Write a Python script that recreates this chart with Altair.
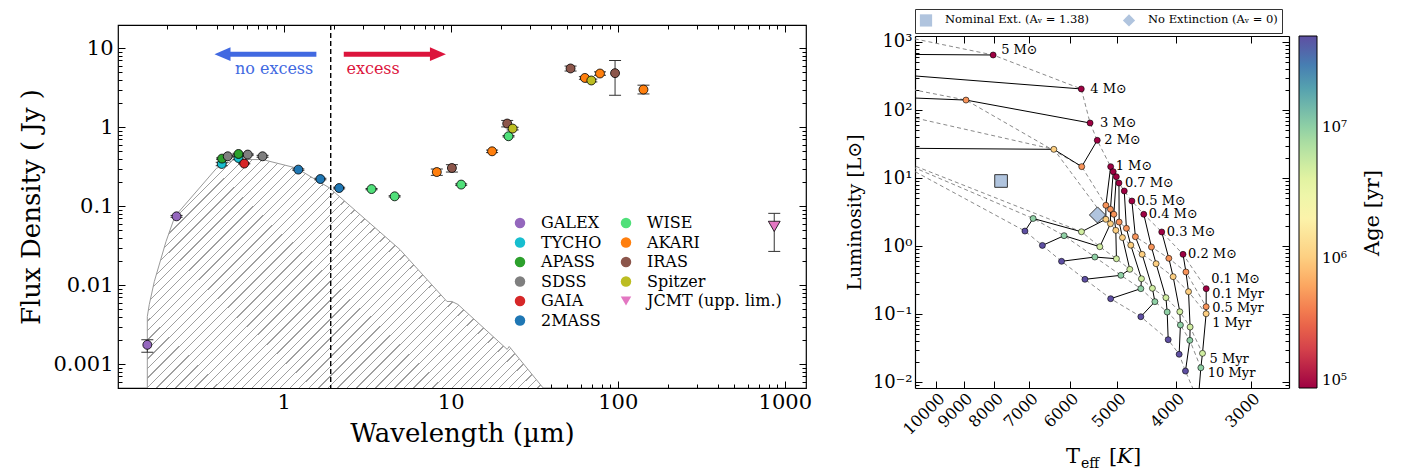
import altair as alt
import pandas as pd

FONT = "DejaVu Serif"

# ======================= LEFT PANEL: SED =======================
sed_survey = ["GALEX", "GALEX", "TYCHO", "TYCHO", "APASS", "APASS", "SDSS", "SDSS", "SDSS", "GAIA",
              "2MASS", "2MASS", "2MASS", "WISE", "WISE", "WISE", "WISE",
              "AKARI", "AKARI", "AKARI", "AKARI", "AKARI", "IRAS", "IRAS", "IRAS", "IRAS",
              "Spitzer", "Spitzer", "JCMT (upp. lim.)"]
sed_lam = [0.1528, 0.2286, 0.426, 0.537, 0.428, 0.537, 0.463, 0.610, 0.748, 0.581,
           1.225, 1.66, 2.15, 3.36, 4.62, 11.56, 22.2,
           8.26, 17.7, 63.6, 78.3, 142.6, 10.17, 21.8, 52.2, 96.4,
           23.5, 69.5, 865.0]
sed_flux = [0.00176, 0.0745, 0.343, 0.408, 0.401, 0.459, 0.429, 0.451, 0.429, 0.347,
            0.291, 0.221, 0.170, 0.165, 0.1335, 0.188, 0.769,
            0.271, 0.496, 4.21, 4.79, 3.00, 0.305, 1.114, 5.55, 4.84,
            0.963, 3.91, 0.0556]
sed_lo = [0.00142, 0.0725, 0.326, 0.392, 0.393, 0.450, 0.421, 0.443, 0.417, 0.343,
          0.285, 0.216, 0.166, 0.162, 0.131, 0.184, 0.754,
          0.246, 0.478, 4.05, 4.55, 2.64, 0.271, 1.01, 5.15, 2.54,
          0.925, 3.75, 0.0268]
sed_hi = [0.00204, 0.0765, 0.360, 0.424, 0.409, 0.468, 0.437, 0.459, 0.441, 0.351,
          0.297, 0.226, 0.174, 0.168, 0.136, 0.192, 0.784,
          0.296, 0.514, 4.37, 5.03, 3.41, 0.336, 1.22, 5.95, 7.00,
          1.000, 4.07, 0.0813]

# stellar photosphere model (hatched)
model_lam = [0.1528, 0.1528, 0.157, 0.1683, 0.1978, 0.2235, 0.3963, 0.508, 0.748, 1.19,
             1.888, 4.97, 9.5, 10.17, 11.06, 21.8, 22.4, 35.8]
model_flux = [0.0005, 0.00402, 0.00571, 0.01117, 0.0359, 0.0745, 0.302, 0.390, 0.390, 0.305,
              0.170, 0.0283, 0.00623, 0.00623, 0.00571, 0.00154, 0.00168, 0.0005]

EXCESS_LAM = 1.914
ARROW_Y = 8.42
noexc_arrow = [1.571, 0.4305]   # from, head centre
exc_arrow = [2.291, 8.39]
noexc_text = [0.877, 5.43]
exc_text = [2.377, 5.43]

legend_order = ["GALEX", "TYCHO", "APASS", "SDSS", "GAIA", "2MASS",
                "WISE", "AKARI", "IRAS", "Spitzer", "JCMT (upp. lim.)"]
legend_colors = ["#9467bd", "#17becf", "#2ca02c", "#7f7f7f", "#d62728", "#1f77b4",
                 "#50e07a", "#ff7f0e", "#8c564b", "#bcbd22", "#e377c2"]
legend_shapes = ["circle"] * 10 + ["triangle-down"]

# ======================= RIGHT PANEL: HR diagram =======================
track_masses = [6.0, 5.0, 4.0, 3.0, 2.0, 1.0, 0.9, 0.8, 0.7, 0.6, 0.5, 0.4, 0.3, 0.2, 0.1]
iso_ages = [1e5, 5e5, 1e6, 5e6, 1e7, 5e7]
teff_01 = [12700, 8040, 5740, 5550, 5400, 5130, 5080, 5020, 4970, 4870, 4730, 4520, 4220, 3890, 3560]
lum_01 = [1480, 644, 204, 64.4, 35.8, 14.7, 12.4, 10.45, 8.44, 6.44, 4.59, 2.93, 1.61, 0.755, 0.236]
teff_05 = [22000, 20000, 17100, 8920, 5730, 5225, 5134, 5068, 4966, 4830, 4667, 4389, 4107, 3847, 3561]
lum_05 = [1500, 680, 434, 140, 14.7, 3.97, 3.47, 2.93, 2.25, 1.82, 1.37, 0.967, 0.659, 0.415, 0.128]
teff_1 = [23000, 21000, 18000, 16300, 6375, 5225, 5134, 5030, 4904, 4750, 4548, 4312, 4040, 3809, 3561]
lum_1 = [1500, 680, 440, 173, 26.4, 2.47, 2.13, 1.70, 1.33, 1.03, 0.755, 0.549, 0.354, 0.213, 0.101]
teff_5 = [24000, 22000, 20000, 18000, 12900, 5736, 5347, 5018, 4768, 4560, 4373, 4153, 3938, 3786, 3611]
lum_5 = [1500, 680, 440, 175, 27.6, 1.62, 0.976, 0.650, 0.454, 0.330, 0.239, 0.174, 0.108, 0.0644, 0.0264]
teff_10 = [25000, 23000, 21000, 19000, 12950, 6900, 6130, 5450, 4933, 4571, 4332, 4133, 3929, 3790, 3634]
lum_10 = [1500, 680, 440, 175, 27.6, 2.54, 1.42, 0.689, 0.371, 0.236, 0.152, 0.107, 0.0689, 0.041, 0.0162]
teff_50 = [26000, 24000, 22000, 20000, 12750, 7120, 6660, 6190, 5660, 5130, 4571, 4117, 3948, 3854, 3671]
lum_50 = [1500, 680, 440, 175, 27.0, 1.66, 1.02, 0.596, 0.324, 0.168, 0.0913, 0.0419, 0.0256, 0.0145, 0.00526]

label_masses = [5.0, 4.0, 3.0, 2.0, 1.0, 0.7, 0.5, 0.4, 0.3, 0.2, 0.1]
age_label_text = ["0.1 Myr", "0.5 Myr", "1 Myr", "5 Myr", "10 Myr"]
age_label_ages = [1e5, 5e5, 1e6, 5e6, 1e7]

marker_names = ["Nominal Ext. (A\u1d65 = 1.38)", "No Extinction (A\u1d65 = 0)"]
marker_teff = [7800, 5395]
marker_lum = [9.04, 2.86]

# label offsets (style)
mass_dx = [8, 9, 10, 7, 5, 6, 5, 5, 5, 5, 5]
mass_dy = [-5, 0, 0, 0, -1, 0, 0, 0, 0, 0, -10]
age_dx = [6, 6, 6, 7, 7]
age_dy = [5, 1, 9, 6, 5]


# ======================= helpers =======================
def decade_ticks(lo, hi):
    major, minor = [], []
    for e in range(-6, 6):
        for m in range(1, 10):
            v = float(f"{m * 10.0 ** e:.6g}")
            if lo < v < hi:
                (major if m == 1 else minor).append(v)
    return major, minor


def tick_axis(orient, values, size, **kw):
    props = dict(orient=orient, values=values, tickSize=size, offset=-size, domain=False,
                 grid=False, ticks=True, tickColor="black", tickWidth=1, labels=False,
                 title=None, labelOverlap=False, labelFlush=False)
    props.update(kw)
    return alt.Axis(**props)


def frame_axis(orient, offset=0):
    return alt.Axis(orient=orient, domain=True, domainColor="black", domainWidth=1.2,
                    ticks=False, labels=False, grid=False, title=None, offset=offset)


def px_text(text, x, y, size, **kw):
    return alt.Chart(pd.DataFrame({"t": [text]})).mark_text(
        font=FONT, fontSize=size, color="black", **kw
    ).encode(x=alt.value(x), y=alt.value(y), text="t:N")


# ======================= left chart =======================
X_DOM = [0.102, 1340.0]
Y_DOM = [0.0005, 19.7]
YMIN = Y_DOM[0]
x_major, x_minor = decade_ticks(*X_DOM)
y_major, y_minor = decade_ticks(*Y_DOM)
XS = alt.Scale(type="log", domain=X_DOM)
YS = alt.Scale(type="log", domain=Y_DOM)

sed_df = pd.DataFrame({"survey": sed_survey, "lam": sed_lam, "flux": sed_flux,
                       "lo": sed_lo, "hi": sed_hi})
model_df = pd.DataFrame({"lam": model_lam, "flux": model_flux, "i": list(range(len(model_lam)))})

# hatch pattern as striped linear gradient (45 deg lines)
HW, HH = 395.0, 229.0
k = (HW + HH) * HW / (HW ** 2 + HH ** 2)
period = 9.5 / (HW + HH)
lw = 1.3 / (HW + HH)
stops = []
a = 0.0
while a < 1.0:
    b = min(a + lw, 1.0)
    c = min(a + period, 1.0)
    stops += [alt.GradientStop(offset=round(a, 5), color="#a0a0a0"),
              alt.GradientStop(offset=round(b, 5), color="#a0a0a0"),
              alt.GradientStop(offset=round(b, 5), color="#ffffff"),
              alt.GradientStop(offset=round(c, 5), color="#ffffff")]
    a += period
hatch_fill = alt.Gradient(gradient="linear", stops=stops, x1=0, y1=0,
                          x2=round(k, 4), y2=round(k * HH / HW, 4))

xa = lambda f, ax=None: alt.X(f, type="quantitative", scale=XS, axis=ax)
ya = lambda f, ax=None: alt.Y(f, type="quantitative", scale=YS, axis=ax)

hatch = alt.Chart(model_df).transform_filter("datum.i > 0").mark_area(
    fill=hatch_fill, clip=True).encode(x=xa("lam"), y=ya("flux"), y2=alt.datum(YMIN))
outline = alt.Chart(model_df).mark_line(color="#9a9a9a", strokeWidth=1, clip=True).encode(
    x=xa("lam"), y=ya("flux"), order="i:Q")
vline = alt.Chart(pd.DataFrame({"lam": [EXCESS_LAM]})).mark_rule(
    color="black", strokeWidth=1.4, strokeDash=[5, 3]).encode(x=xa("lam"))

BLUE, RED = "#4169e1", "#dc143c"
layers_arrows = []
for arr, col, path in [(noexc_arrow, BLUE, "M -1 0 L 1 -0.85 L 1 0.85 Z"),
                       (exc_arrow, RED, "M 1 0 L -1 -0.85 L -1 0.85 Z")]:
    adf = pd.DataFrame({"x": [arr[0]], "x2": [arr[1]], "y": [ARROW_Y]})
    layers_arrows.append(alt.Chart(adf).mark_rule(color=col, strokeWidth=5).encode(
        x=xa("x"), x2="x2:Q", y=ya("y")))
    layers_arrows.append(alt.Chart(adf).mark_point(shape=path, filled=True, size=256, color=col,
                                                   opacity=1).encode(x=xa("x2"), y=ya("y")))

t_no = alt.Chart(pd.DataFrame({"x": [noexc_text[0]], "y": [noexc_text[1]], "t": ["no excess"]})).mark_text(
    font=FONT, fontSize=16, color=BLUE, align="center", baseline="middle").encode(
    x=xa("x"), y=ya("y"), text="t:N")
t_ex = alt.Chart(pd.DataFrame({"x": [exc_text[0]], "y": [exc_text[1]], "t": ["excess"]})).mark_text(
    font=FONT, fontSize=16, color=RED, align="left", baseline="middle").encode(
    x=xa("x"), y=ya("y"), text="t:N")

xb_major = tick_axis("bottom", x_major, 7, labels=True, format="d", labelFontSize=21,
                     labelPadding=3, title="Wavelength (\u00b5m)", titleFontSize=26, titlePadding=8)
xb_minor = tick_axis("bottom", x_minor, 4)
xt_major = tick_axis("top", x_major, 7)
xt_minor = tick_axis("top", x_minor, 4)
yl_major = tick_axis("left", y_major, 7, labels=True,
                     labelExpr="datum.value >= 1 ? format(datum.value, 'd') : format(datum.value, '.3~f')",
                     labelFontSize=21, labelPadding=5, title="Flux Density ( Jy )",
                     titleFontSize=26, titlePadding=8)
yl_minor = tick_axis("left", y_minor, 4)
yr_major = tick_axis("right", y_major, 7)
yr_minor = tick_axis("right", y_minor, 4)

err = alt.Chart(sed_df).mark_rule(color="#333333", strokeWidth=1).encode(
    x=xa("lam", xb_minor), y=ya("lo", yl_minor), y2="hi:Q")
cap_lo = alt.Chart(sed_df).mark_tick(orient="horizontal", size=12, thickness=1, color="#333333",
                                     opacity=1).encode(x=xa("lam", xt_major), y=ya("lo", yr_major))
cap_hi = alt.Chart(sed_df).mark_tick(orient="horizontal", size=12, thickness=1, color="#333333",
                                     opacity=1).encode(x=xa("lam", xt_minor), y=ya("hi", yr_minor))

sed_legend = alt.Legend(title=None, orient="none", legendX=394, legendY=190, columns=2,
                        symbolSize=110, symbolStrokeColor="black", symbolStrokeWidth=0.8,
                        labelFont=FONT, labelFontSize=16, labelColor="black", rowPadding=3.5,
                        columnPadding=16, labelOffset=13, padding=0, symbolOpacity=1)
pts = alt.Chart(sed_df).mark_point(filled=True, stroke="black", strokeWidth=0.8,
                                   opacity=1).encode(
    x=xa("lam", xb_major), y=ya("flux", yl_major),
    color=alt.Color("survey:N", scale=alt.Scale(domain=legend_order, range=legend_colors),
                    legend=sed_legend),
    shape=alt.Shape("survey:N", scale=alt.Scale(domain=legend_order, range=legend_shapes),
                    legend=sed_legend),
    size=alt.condition(alt.FieldEqualPredicate(field="survey", equal="JCMT (upp. lim.)"),
                       alt.value(140), alt.value(80)))

left = alt.layer(hatch, outline, vline, *layers_arrows, t_no, t_ex, err, cap_lo, cap_hi, pts).resolve_axis(
    x="independent", y="independent").properties(
    width=688, height=363, view=alt.ViewBackground(stroke="black", strokeWidth=1.2))

# ======================= right chart =======================
T_DOM = [2594.0, 10840.0]
L_DOM = [0.00817, 1225.0]
TS = alt.Scale(type="log", domain=T_DOM, reverse=True)
LS = alt.Scale(type="log", domain=L_DOM, range=[363, 11])
t_major = [3000, 4000, 5000, 6000, 7000, 8000, 9000, 10000]
l_major, l_minor = decade_ticks(*L_DOM)

rows = []
for age, Ts, Ls in zip(iso_ages, [teff_01, teff_05, teff_1, teff_5, teff_10, teff_50],
                       [lum_01, lum_05, lum_1, lum_5, lum_10, lum_50]):
    for m, t, l in zip(track_masses, Ts, Ls):
        rows.append({"mass": m, "age": age, "teff": t, "lum": l})
hr_df = pd.DataFrame(rows)


def pick(m, age):
    r = hr_df[(hr_df.mass == m) & (hr_df.age == age)].iloc[0]
    return r.teff, r.lum


mass_rows = []
for m, dx, dy in zip(label_masses, mass_dx, mass_dy):
    t, l = pick(m, 1e5)
    mass_rows.append({"teff": t, "lum": l, "label": f"{m:g} M\u2299", "dx": dx, "dy": dy})
mass_lbl_df = pd.DataFrame(mass_rows)
age_rows = []
for txt, age, dx, dy in zip(age_label_text, age_label_ages, age_dx, age_dy):
    t, l = pick(0.1, age)
    age_rows.append({"teff": t, "lum": l, "label": txt, "dx": dx, "dy": dy})
age_lbl_df = pd.DataFrame(age_rows)
marker_df = pd.DataFrame({"name": marker_names, "teff": marker_teff, "lum": marker_lum})

xr = lambda ax=None: alt.X("teff", type="quantitative", scale=TS, axis=ax)
yr = lambda ax=None: alt.Y("lum", type="quantitative", scale=LS, axis=ax)

sup = {1000: "10\u00b3", 100: "10\u00b2", 10: "10\u00b9", 1: "10\u2070", 0.1: "10\u207b\u00b9", 0.01: "10\u207b\u00b2"}
sup_expr = " : ".join([f"datum.value == {v} ? '{s}'" for v, s in sup.items()]) + " : ''"

xbT = tick_axis("bottom", t_major, 7, labels=True, format="d", labelAngle=315, labelAlign="right",
                labelBaseline="top", labelFontSize=16, labelPadding=2)
xtT = tick_axis("top", t_major, 7, offset=-18)
xb_fr = frame_axis("bottom")
xt_fr = frame_axis("top", -11)
ylL = tick_axis("left", l_major, 7, labels=True, labelExpr=sup_expr, labelFontSize=18,
                labelPadding=3, title="Luminosity [L\u2299]", titleFontSize=19, titlePadding=8,
                titleY=187)
ylLm = tick_axis("left", l_minor, 4)
yrL = tick_axis("right", l_major, 7)
yrLm = tick_axis("right", l_minor, 4)
yl_fr = frame_axis("left")
yr_fr = frame_axis("right")

iso = alt.Chart(hr_df).mark_line(color="#8a8a8a", strokeWidth=1, strokeDash=[4, 3], clip=True).encode(
    x=xr(xb_fr), y=yr(yrL), detail="age:N", order=alt.Order("mass:Q", sort="descending"))
tracks = alt.Chart(hr_df).mark_line(color="black", strokeWidth=1, clip=True).encode(
    x=xr(xtT), y=yr(ylLm), detail="mass:N", order="age:Q")
cbar = alt.Legend(orient="none", legendX=384, legendY=11, direction="vertical", gradientLength=352,
                  gradientThickness=18, gradientStrokeColor="black", gradientStrokeWidth=1,
                  title=None, values=[1e5, 1e6, 1e7],
                  labelExpr="datum.value == 100000 ? '10\u2075' : datum.value == 1000000 ? '10\u2076' : '10\u2077'",
                  labelFont=FONT, labelFontSize=15, labelColor="black", labelOffset=5, padding=0)
dots = alt.Chart(hr_df).mark_point(filled=True, size=36, stroke="black", strokeWidth=0.6, opacity=1,
                                   clip=True).encode(
    x=xr(xbT), y=yr(ylL),
    color=alt.Color("age:Q", scale=alt.Scale(type="log", domain=[1e5, 5e7], scheme="spectral"),
                    legend=cbar))
ext_legend = alt.Legend(orient="none", legendX=0, legendY=-16, direction="horizontal", title=None,
                        strokeColor="#333333", fillColor="white", padding=4, symbolSize=150,
                        symbolFillColor="#b0c4de", symbolStrokeColor="#333333", symbolStrokeWidth=1,
                        labelFont=FONT, labelFontSize=11.5, labelColor="black", labelOffset=12,
                        columnPadding=30)
mk_shape = alt.Shape("name:N", scale=alt.Scale(domain=marker_names, range=["square", "diamond"]),
                     legend=ext_legend)
marker_sq = alt.Chart(marker_df).transform_filter(
    alt.FieldEqualPredicate(field="name", equal=marker_names[0])).mark_point(
    filled=True, fill="#b0c4de", stroke="#333333", strokeWidth=1, opacity=1, size=160).encode(
    x=xr(xt_fr), y=yr(yrLm), shape=mk_shape)
marker_di = alt.Chart(marker_df).transform_filter(
    alt.FieldEqualPredicate(field="name", equal=marker_names[1])).mark_point(
    filled=True, fill="#b0c4de", stroke="#333333", strokeWidth=1, opacity=1, size=260).encode(
    x=xr(), y=yr(), shape=mk_shape)
mass_lbl = alt.Chart(mass_lbl_df).mark_text(
    align="left", baseline="middle", font=FONT, fontSize=13, color="black",
    dx=alt.ExprRef("datum.dx"), dy=alt.ExprRef("datum.dy")).encode(
    x=xr(), y=yr(yl_fr), text="label:N")
age_lbl = alt.Chart(age_lbl_df).mark_text(
    align="left", baseline="middle", font=FONT, fontSize=13, color="black",
    dx=alt.ExprRef("datum.dx"), dy=alt.ExprRef("datum.dy")).encode(
    x=xr(), y=yr(yr_fr), text="label:N")

titles = [
    px_text("T", 151, 438, 21, align="left", baseline="alphabetic"),
    px_text("eff", 166, 443, 14, align="left", baseline="alphabetic"),
    px_text("[", 194, 438, 21, align="left", baseline="alphabetic"),
    px_text("K", 202, 438, 21, align="left", baseline="alphabetic", fontStyle="italic"),
    px_text("]", 218, 438, 21, align="left", baseline="alphabetic"),
    px_text("Age [yr]", 458, 188, 21, align="center", baseline="middle", angle=270),
]

right = alt.layer(iso, tracks, dots, marker_sq, marker_di, mass_lbl, age_lbl, *titles).resolve_axis(
    x="independent", y="independent").properties(width=374, height=363)

chart = alt.hconcat(left, right, spacing=31).resolve_scale(
    color="independent", shape="independent", size="independent").resolve_legend(
    color="independent", shape="independent", size="independent").properties(
    padding={"left": 10, "top": 0, "right": 5, "bottom": 0}).configure_view(
    stroke="transparent").configure_axis(
    labelFont=FONT, titleFont=FONT, labelColor="black", titleColor="black",
    titleFontWeight="normal").configure_legend(labelFont=FONT)

chart.save("out.html", embed_options={"renderer": "svg", "actions": False})
